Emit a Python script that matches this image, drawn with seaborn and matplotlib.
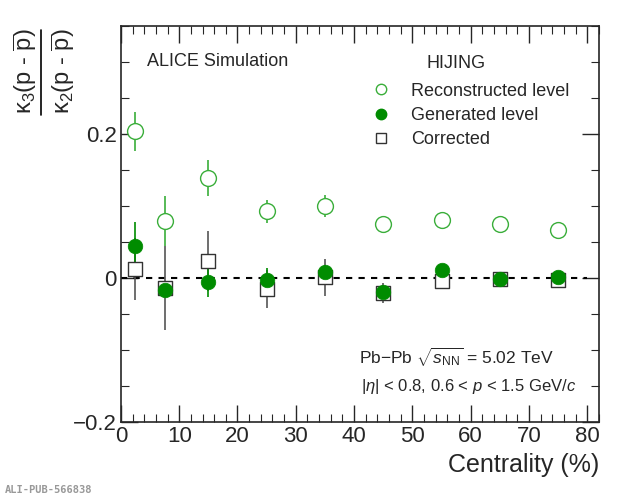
import numpy as np
import pandas as pd
import matplotlib
matplotlib.use("Agg")
import matplotlib.pyplot as plt
import seaborn as sns
from matplotlib.ticker import MultipleLocator
from matplotlib.lines import Line2D

# centrality bin centres (%)
centrality = [2.5, 7.5, 15, 25, 35, 45, 55, 65, 75]

# kappa3 / kappa2 of net-protons, HIJING
reco_val = [0.204, 0.079, 0.139, 0.093, 0.100, 0.075, 0.081, 0.075, 0.067]
reco_err = [0.027, 0.035, 0.025, 0.016, 0.015, 0.004, 0.004, 0.004, 0.004]

gen_val = [0.045, -0.016, -0.006, -0.002, 0.008, -0.019, 0.011, -0.001, 0.002]
gen_err = [0.033, 0.010, 0.020, 0.016, 0.010, 0.010, 0.004, 0.004, 0.004]

corr_val = [0.012, -0.014, 0.024, -0.015, 0.001, -0.021, -0.004, -0.001, -0.002]
corr_err = [0.043, 0.058, 0.042, 0.026, 0.026, 0.014, 0.004, 0.004, 0.004]

X_MIN, X_MAX = 0, 82
Y_MIN, Y_MAX = -0.2, 0.35
REF_LINE_END = 80

sns.set_theme(style="ticks")
plt.rcParams["font.family"] = ["Liberation Sans", "DejaVu Sans"]
plt.rcParams["mathtext.fontset"] = "custom"
plt.rcParams["mathtext.rm"] = "Liberation Sans"
plt.rcParams["mathtext.it"] = "Liberation Sans:italic"
plt.rcParams["mathtext.bf"] = "Liberation Sans:bold"

df = pd.DataFrame({
    "centrality": centrality,
    "reco": reco_val, "reco_err": reco_err,
    "gen": gen_val, "gen_err": gen_err,
    "corr": corr_val, "corr_err": corr_err,
})

RECO_COL = "#3aae3a"
GEN_COL = "#008c00"
CORR_COL = "#333333"

fig = plt.figure(figsize=(6.2, 4.99), dpi=100)
ax = fig.add_axes([0.195, 0.154, 0.771, 0.794])

ax.hlines(0, X_MIN, REF_LINE_END, colors="black", linestyles=(0, (3, 3)), lw=1.5, zorder=1)

# error bars first, then markers via seaborn
ax.errorbar(df["centrality"], df["corr"], yerr=df["corr_err"], fmt="none",
            ecolor="#555555", elinewidth=1.2, zorder=2)
ax.errorbar(df["centrality"], df["reco"], yerr=df["reco_err"], fmt="none",
            ecolor=RECO_COL, elinewidth=1.2, zorder=2)
ax.errorbar(df["centrality"], df["gen"], yerr=df["gen_err"], fmt="none",
            ecolor=GEN_COL, elinewidth=1.2, zorder=2)

sns.scatterplot(data=df, x="centrality", y="corr", ax=ax, marker="s", s=95,
                facecolor="white", edgecolor=CORR_COL, linewidth=1.0, zorder=3)
sns.scatterplot(data=df, x="centrality", y="gen", ax=ax, marker="o", s=110,
                color=GEN_COL, edgecolor=GEN_COL, linewidth=0.5, zorder=4)
sns.scatterplot(data=df, x="centrality", y="reco", ax=ax, marker="o", s=130,
                facecolor="white", edgecolor=RECO_COL, linewidth=1.0, zorder=5)

ax.set_xlim(X_MIN, X_MAX)
ax.set_ylim(Y_MIN, Y_MAX)
ax.xaxis.set_major_locator(MultipleLocator(10))
ax.xaxis.set_minor_locator(MultipleLocator(2))
ax.yaxis.set_major_locator(MultipleLocator(0.2))
ax.yaxis.set_minor_locator(MultipleLocator(0.05))
ax.yaxis.set_major_formatter(lambda v, p: "0" if abs(v) < 1e-9 else f"{v:.1f}".replace("-", "\u2212"))
ax.tick_params(which="both", direction="in", top=True, right=True, labelsize=16, pad=3)
ax.tick_params(which="major", length=12, width=1.0)
ax.tick_params(which="minor", length=6, width=0.8)
for sp in ax.spines.values():
    sp.set_linewidth(1.2)

ax.set_xlabel("Centrality (%)", fontsize=18, ha="right", x=1.0, labelpad=4)
ax.set_ylabel("")

# y title as a stacked fraction: numerator, bar, denominator
fig.text(0.041, 0.857, r"κ$_3$(p - $\overline{\mathrm{p}}$)", rotation=90,
         ha="center", va="center", fontsize=17)
fig.text(0.102, 0.857, r"κ$_2$(p - $\overline{\mathrm{p}}$)", rotation=90,
         ha="center", va="center", fontsize=17)
fig.add_artist(Line2D([0.066, 0.066], [0.77, 0.94], transform=fig.transFigure,
                      color="black", lw=1.2))

ax.text(0.055, 0.91, "ALICE Simulation", transform=ax.transAxes, fontsize=13, va="center")
ax.text(0.64, 0.905, "HIJING", transform=ax.transAxes, fontsize=13, va="center")

handles = [
    Line2D([], [], marker="o", ls="none", mfc="white", mec=RECO_COL, ms=7.5, mew=1.0),
    Line2D([], [], marker="o", ls="none", mfc=GEN_COL, mec=GEN_COL, ms=7.5),
    Line2D([], [], marker="s", ls="none", mfc="white", mec=CORR_COL, ms=7, mew=1.0),
]
labels = ["Reconstructed level", "Generated level", "Corrected"]
ax.legend(handles, labels, loc="upper left", bbox_to_anchor=(0.516, 0.857),
          frameon=False, fontsize=13, handlelength=1.5, handletextpad=0.9,
          borderpad=0, borderaxespad=0, labelspacing=0.4)

ax.text(0.905, 0.163, r"Pb$-$Pb $\sqrt{s_{\mathrm{NN}}}$ = 5.02 TeV", transform=ax.transAxes,
        fontsize=12.5, ha="right", va="center")
ax.text(0.952, 0.09, r"$|\eta|$ < 0.8, 0.6 < $p$ < 1.5 GeV/$c$", transform=ax.transAxes,
        fontsize=12, ha="right", va="center")

fig.text(0.008, 0.018, "ALI-PUB-566838", fontsize=7.5, color="#999999",
         family="DejaVu Sans Mono", fontweight="bold", va="center")

fig.savefig("out.png", dpi=100)
